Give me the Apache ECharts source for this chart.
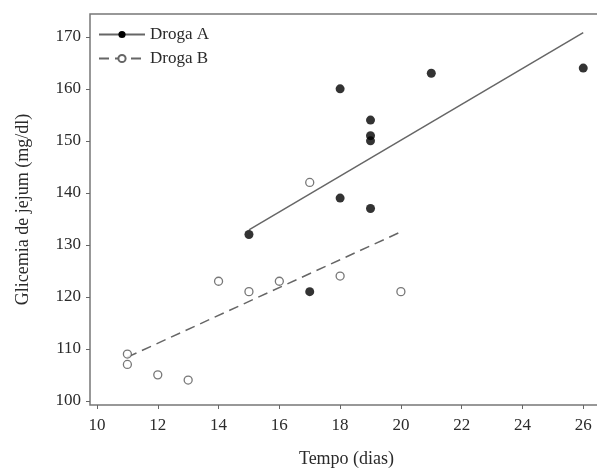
<!DOCTYPE html>
<html><head><meta charset="utf-8">
<script src="https://cdn.jsdelivr.net/npm/echarts@6/dist/echarts.min.js"></script>
<style>html,body{margin:0;padding:0;background:#fff}#c{width:597px;height:468px}</style>
</head><body><div id="c"></div>
<script>
const xTicks = [10,12,14,16,18,20,22,24,26];
const yTicks = [100,110,120,130,140,150,160,170];
const drogaA = [[15,132],[17,121],[18,160],[18,139],[19,154],[19,151],[19,150],[19,137],[21,163],[26,164]];
const drogaB = [[11,109],[11,107],[12,105],[13,104],[14,123],[15,121],[16,123],[17,142],[18,124],[20,121]];
const fitA = [[15,132.9],[26,170.8]];
const fitB = [[11,108.4],[20,132.5]];

const font = '"Liberation Serif", "DejaVu Serif", serif';
const txt = '#2a2a2a';
const chart = echarts.init(document.getElementById('c'));
chart.setOption({
  animation: false,
  textStyle: {fontFamily: font},
  grid: {left: 90, top: 14, right: -6, bottom: 63, outerBoundsMode: 'none', containLabel: false,
         show: true, borderColor: '#777', borderWidth: 1.5, backgroundColor: 'transparent'},
  legend: {
    data: ['Droga A','Droga B'], orient: 'vertical', left: 93, top: 21,
    itemWidth: 46, itemHeight: 9, itemGap: 7,
    textStyle: {fontFamily: font, fontSize: 17, color: txt}
  },
  xAxis: {
    type: 'value', min: 9.77, max: 26.65,
    name: 'Tempo (dias)', nameLocation: 'middle', nameGap: 45,
    nameTextStyle: {fontFamily: font, fontSize: 18, color: txt},
    axisLine: {show: false},
    axisTick: {show: true, length: 4, customValues: xTicks, lineStyle: {color: '#666'}},
    axisLabel: {customValues: xTicks, fontFamily: font, fontSize: 17, color: txt, margin: 12},
    splitLine: {show: false}
  },
  yAxis: {
    type: 'value', min: 99.2, max: 174.4,
    name: 'Glicemia de jejum (mg/dl)', nameLocation: 'middle', nameGap: 58,
    nameTextStyle: {fontFamily: font, fontSize: 18, color: txt},
    axisLine: {show: false},
    axisTick: {show: true, length: 4, customValues: yTicks, lineStyle: {color: '#666'}},
    axisLabel: {customValues: yTicks, fontFamily: font, fontSize: 17, color: txt, margin: 9},
    splitLine: {show: false}
  },
  series: [
    {name: 'Droga A', type: 'line', data: fitA, showSymbol: false, symbol: 'circle', symbolSize: 8,
     itemStyle: {color: '#000'}, lineStyle: {color: '#666', width: 1.5}, z: 2},
    {name: 'Droga B', type: 'line', data: fitB, showSymbol: false, symbol: 'emptyCircle', symbolSize: 8,
     itemStyle: {color: '#666'}, lineStyle: {color: '#666', width: 1.5, type: [10,6]}, z: 2},
    {name: 'ptsA', type: 'scatter', data: drogaA, symbol: 'circle', symbolSize: 9,
     itemStyle: {color: '#000'}, z: 3},
    {name: 'ptsB', type: 'scatter', data: drogaB, symbol: 'circle', symbolSize: 8,
     itemStyle: {color: '#fff', borderColor: '#555', borderWidth: 1.3}, z: 3}
  ]
});
</script></body></html>
